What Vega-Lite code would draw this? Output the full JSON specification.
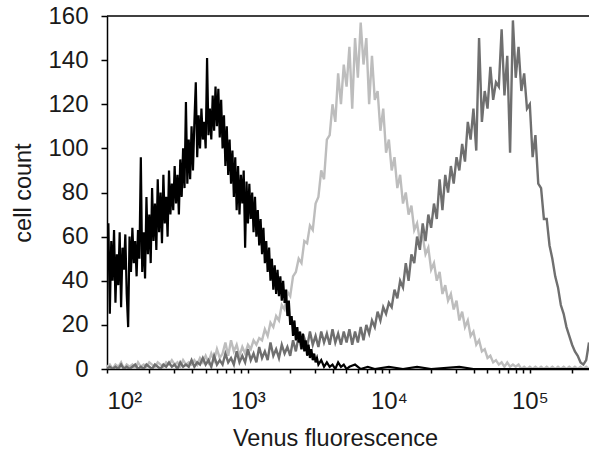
{
  "$schema": "https://vega.github.io/schema/vega-lite/v6.json",
  "width": 482,
  "height": 353,
  "autosize": {"type": "none"},
  "padding": {"left": 107, "top": 16, "right": 0, "bottom": 84},
  "config": {
    "view": {"stroke": null},
    "axis": {"grid": false, "domainColor": "#000", "domainWidth": 1.5, "tickColor": "#000", "tickWidth": 1.5, "labelFont": "Liberation Sans", "labelFontSize": 24, "labelColor": "#1a1a1a", "titleFont": "Liberation Sans", "titleFontSize": 23.5, "titleFontWeight": "normal", "titleColor": "#1a1a1a"}
  },
  "datasets": {
    "black": [
      {"x":100,"y":48},{"x":102.3,"y":66},{"x":104.7,"y":25},{"x":107.2,"y":58},{"x":109.6,"y":40},{"x":112.2,"y":63},{"x":114.8,"y":30},{"x":117.5,"y":52},
      {"x":120.2,"y":38},{"x":123.0,"y":62},{"x":125.9,"y":28},{"x":128.8,"y":55},{"x":131.8,"y":45},{"x":134.9,"y":61},{"x":138.0,"y":34},{"x":141.3,"y":19},
      {"x":144.5,"y":60},{"x":147.9,"y":44},{"x":151.4,"y":64},{"x":154.9,"y":48},{"x":158.5,"y":58},{"x":162.2,"y":42},{"x":166.0,"y":63},{"x":169.8,"y":50},
      {"x":173.8,"y":96},{"x":177.8,"y":44},{"x":182.0,"y":62},{"x":186.2,"y":41},{"x":190.5,"y":78},{"x":195.0,"y":52},{"x":199.5,"y":70},{"x":204.2,"y":48},
      {"x":208.9,"y":82},{"x":213.8,"y":58},{"x":218.8,"y":75},{"x":223.9,"y":54},{"x":229.1,"y":86},{"x":234.4,"y":62},{"x":239.9,"y":80},{"x":245.5,"y":57},
      {"x":251.2,"y":88},{"x":257.0,"y":66},{"x":263.0,"y":78},{"x":269.2,"y":60},{"x":275.4,"y":90},{"x":281.8,"y":70},{"x":288.4,"y":84},{"x":295.1,"y":72},
      {"x":302.0,"y":92},{"x":309.0,"y":75},{"x":316.2,"y":88},{"x":323.6,"y":70},{"x":331.1,"y":95},{"x":338.8,"y":78},{"x":346.7,"y":100},{"x":354.8,"y":82},
      {"x":363.1,"y":121},{"x":371.5,"y":84},{"x":380.2,"y":104},{"x":389.0,"y":86},{"x":398.1,"y":110},{"x":407.4,"y":90},{"x":416.9,"y":112},{"x":426.6,"y":130},
      {"x":436.5,"y":96},{"x":446.7,"y":115},{"x":457.1,"y":100},{"x":467.7,"y":118},{"x":478.6,"y":104},{"x":489.8,"y":112},{"x":501.2,"y":100},{"x":512.9,"y":141},
      {"x":524.8,"y":106},{"x":537.0,"y":118},{"x":549.5,"y":104},{"x":562.3,"y":124},{"x":575.4,"y":108},{"x":588.8,"y":128},{"x":602.6,"y":110},{"x":616.6,"y":127},
      {"x":631.0,"y":105},{"x":645.7,"y":122},{"x":660.7,"y":100},{"x":676.1,"y":115},{"x":691.8,"y":92},{"x":707.9,"y":110},{"x":724.4,"y":88},{"x":741.3,"y":104},
      {"x":758.6,"y":84},{"x":776.2,"y":99},{"x":794.3,"y":78},{"x":812.8,"y":96},{"x":831.8,"y":72},{"x":851.1,"y":92},{"x":871.0,"y":70},{"x":891.3,"y":88},
      {"x":912.0,"y":75},{"x":933.3,"y":90},{"x":955.0,"y":55},{"x":977.2,"y":85},{"x":1000,"y":66},{"x":1023,"y":84},{"x":1047,"y":68},{"x":1072,"y":80},
      {"x":1096,"y":62},{"x":1122,"y":78},{"x":1148,"y":60},{"x":1175,"y":72},{"x":1202,"y":56},{"x":1230,"y":68},{"x":1259,"y":52},{"x":1288,"y":64},
      {"x":1318,"y":48},{"x":1349,"y":58},{"x":1380,"y":44},{"x":1413,"y":55},{"x":1445,"y":40},{"x":1479,"y":50},{"x":1514,"y":36},{"x":1549,"y":47},
      {"x":1585,"y":34},{"x":1622,"y":45},{"x":1660,"y":33},{"x":1698,"y":42},{"x":1738,"y":31},{"x":1778,"y":40},{"x":1820,"y":30},{"x":1862,"y":36},
      {"x":1905,"y":24},{"x":1950,"y":31},{"x":1995,"y":20},{"x":2042,"y":24},{"x":2089,"y":15},{"x":2138,"y":22},{"x":2188,"y":13},{"x":2239,"y":19},
      {"x":2291,"y":12},{"x":2344,"y":17},{"x":2399,"y":9},{"x":2455,"y":16},{"x":2512,"y":8},{"x":2570,"y":13},{"x":2630,"y":6},{"x":2692,"y":11},
      {"x":2754,"y":5},{"x":2818,"y":9},{"x":2884,"y":4},{"x":2951,"y":7},{"x":3020,"y":3},{"x":3090,"y":5},{"x":3162,"y":2},{"x":3311,"y":4},
      {"x":3467,"y":1},{"x":3631,"y":3},{"x":3802,"y":1},{"x":3981,"y":2},{"x":4169,"y":0},{"x":4365,"y":3},{"x":4571,"y":1},{"x":4786,"y":2},
      {"x":5012,"y":0},{"x":5248,"y":1},{"x":5754,"y":2},{"x":6310,"y":0},{"x":7079,"y":1},{"x":7943,"y":0},{"x":10000,"y":1},{"x":12590,"y":0},
      {"x":15850,"y":1},{"x":19950,"y":0},{"x":31620,"y":1},{"x":39810,"y":0},{"x":263000,"y":0}
    ],
    "grey": [
      {"x":100,"l":1,"d":0},{"x":104.7,"l":2,"d":1},{"x":109.6,"l":0,"d":0},{"x":114.8,"l":2,"d":1},
      {"x":120.2,"l":1,"d":0},{"x":125.9,"l":3,"d":2},{"x":131.8,"l":0,"d":0},{"x":138.0,"l":2,"d":1},
      {"x":144.5,"l":1,"d":0},{"x":151.4,"l":2,"d":1},{"x":158.5,"l":0,"d":2},{"x":166.0,"l":3,"d":0},
      {"x":173.8,"l":1,"d":1},{"x":182.0,"l":2,"d":0},{"x":190.5,"l":1,"d":2},{"x":199.5,"l":3,"d":1},
      {"x":208.9,"l":2,"d":0},{"x":218.8,"l":1,"d":2},{"x":229.1,"l":3,"d":1},{"x":239.9,"l":2,"d":0},
      {"x":251.2,"l":1,"d":2},{"x":263.0,"l":3,"d":1},{"x":275.4,"l":2,"d":3},{"x":288.4,"l":4,"d":1},
      {"x":302.0,"l":2,"d":2},{"x":316.2,"l":3,"d":0},{"x":331.1,"l":1,"d":3},{"x":346.7,"l":4,"d":1},
      {"x":363.1,"l":2,"d":2},{"x":380.2,"l":3,"d":1},{"x":398.1,"l":2,"d":4},{"x":416.9,"l":4,"d":1},
      {"x":436.5,"l":2,"d":3},{"x":457.1,"l":5,"d":2},{"x":478.6,"l":3,"d":5},{"x":501.2,"l":6,"d":2},
      {"x":524.8,"l":3,"d":4},{"x":549.5,"l":7,"d":1},{"x":575.4,"l":4,"d":6},{"x":602.6,"l":9,"d":2},
      {"x":631.0,"l":5,"d":4},{"x":660.7,"l":7,"d":2},{"x":691.8,"l":12,"d":7},{"x":724.4,"l":6,"d":3},
      {"x":758.6,"l":13,"d":5},{"x":794.3,"l":8,"d":2},{"x":831.8,"l":11,"d":8},{"x":871.0,"l":6,"d":3},
      {"x":912.0,"l":10,"d":6},{"x":955.0,"l":7,"d":3},{"x":1000,"l":11,"d":9},{"x":1047,"l":9,"d":4},
      {"x":1096,"l":13,"d":7},{"x":1148,"l":11,"d":3},{"x":1202,"l":14,"d":10},{"x":1259,"l":13,"d":5},
      {"x":1318,"l":18,"d":8},{"x":1380,"l":15,"d":4},{"x":1445,"l":21,"d":12},{"x":1514,"l":19,"d":6},
      {"x":1585,"l":24,"d":9},{"x":1660,"l":22,"d":5},{"x":1738,"l":29,"d":11},{"x":1820,"l":27,"d":7},
      {"x":1905,"l":35,"d":10},{"x":1995,"l":33,"d":6},{"x":2089,"l":42,"d":13},{"x":2188,"l":44,"d":8},
      {"x":2291,"l":50,"d":15},{"x":2399,"l":48,"d":9},{"x":2512,"l":58,"d":14},{"x":2630,"l":57,"d":10},
      {"x":2754,"l":65,"d":17},{"x":2884,"l":63,"d":11},{"x":3020,"l":75,"d":15},{"x":3162,"l":78,"d":10},
      {"x":3311,"l":90,"d":17},{"x":3467,"l":86,"d":12},{"x":3631,"l":104,"d":16},{"x":3802,"l":106,"d":11},
      {"x":3981,"l":120,"d":18},{"x":4169,"l":112,"d":12},{"x":4365,"l":134,"d":16},{"x":4571,"l":120,"d":11},
      {"x":4786,"l":138,"d":17},{"x":5012,"l":128,"d":12},{"x":5248,"l":146,"d":18},{"x":5495,"l":118,"d":11},
      {"x":5754,"l":150,"d":17},{"x":6026,"l":132,"d":12},{"x":6310,"l":157,"d":19},{"x":6607,"l":138,"d":13},
      {"x":6918,"l":150,"d":20},{"x":7244,"l":120,"d":16},{"x":7586,"l":142,"d":22},{"x":7943,"l":122,"d":19},
      {"x":8318,"l":126,"d":26},{"x":8710,"l":108,"d":22},{"x":9120,"l":118,"d":28},{"x":9550,"l":98,"d":25},
      {"x":10000,"l":104,"d":30},{"x":10470,"l":90,"d":28},{"x":10960,"l":96,"d":36},{"x":11480,"l":82,"d":32},
      {"x":12020,"l":88,"d":40},{"x":12590,"l":75,"d":37},{"x":13180,"l":80,"d":48},{"x":13800,"l":70,"d":40},
      {"x":14450,"l":74,"d":52},{"x":15140,"l":63,"d":48},{"x":15850,"l":66,"d":60},{"x":16600,"l":58,"d":54},
      {"x":17380,"l":60,"d":66},{"x":18200,"l":52,"d":58},{"x":19050,"l":55,"d":70},{"x":19950,"l":45,"d":64},
      {"x":20890,"l":48,"d":75},{"x":21880,"l":40,"d":68},{"x":22910,"l":44,"d":86},{"x":23990,"l":34,"d":72},
      {"x":25120,"l":38,"d":88},{"x":26300,"l":31,"d":80},{"x":27540,"l":34,"d":92},{"x":28840,"l":27,"d":84},
      {"x":30200,"l":31,"d":96},{"x":31620,"l":22,"d":90},{"x":33110,"l":26,"d":102},{"x":34670,"l":19,"d":94},
      {"x":36310,"l":22,"d":112},{"x":38020,"l":15,"d":104},{"x":39810,"l":17,"d":118},{"x":41690,"l":11,"d":99},
      {"x":43650,"l":13,"d":150},{"x":45710,"l":8,"d":112},{"x":47860,"l":9,"d":126},{"x":50120,"l":5,"d":118},
      {"x":52480,"l":6,"d":137},{"x":54950,"l":3,"d":122},{"x":57540,"l":4,"d":130},{"x":60260,"l":2,"d":128},
      {"x":63100,"l":3,"d":154},{"x":66070,"l":1,"d":124},{"x":69180,"l":3,"d":142},{"x":72440,"l":1,"d":98},
      {"x":75860,"l":2,"d":158},{"x":79430,"l":1,"d":132},{"x":83180,"l":2,"d":146},{"x":87100,"l":0,"d":126},
      {"x":91200,"l":1,"d":134},{"x":95500,"l":0,"d":118},{"x":100000,"l":1,"d":120},{"x":104700,"l":0,"d":96},
      {"x":109600,"l":1,"d":106},{"x":114800,"l":0,"d":84},{"x":120200,"l":1,"d":82},{"x":125900,"l":0,"d":68},
      {"x":131800,"l":1,"d":68},{"x":138000,"l":0,"d":56},{"x":144500,"l":1,"d":50},{"x":151400,"l":0,"d":42},
      {"x":158500,"l":1,"d":37},{"x":166000,"l":0,"d":29},{"x":173800,"l":1,"d":25},{"x":182000,"l":0,"d":19},
      {"x":190500,"l":1,"d":15},{"x":199500,"l":0,"d":11},{"x":208900,"l":1,"d":8},{"x":218800,"l":0,"d":6},
      {"x":229100,"l":1,"d":3},{"x":239900,"l":0,"d":2},{"x":251200,"l":1,"d":4},{"x":263000,"l":0,"d":12}
    ]
  },
  "layer": [
    {
      "encoding": {
        "x": {"field": "x", "type": "quantitative",
          "scale": {"type": "log", "domain": [100, 263000]},
          "axis": {"title": "Venus fluorescence", "tickSize": 4, "labelPadding": 16, "labelOverlap": false, "titleX": 228, "titleAlign": "center", "titlePadding": 13,
            "values": [100,200,300,400,500,600,700,800,900,1000,2000,3000,4000,5000,6000,7000,8000,9000,10000,20000,30000,40000,50000,60000,70000,80000,90000,100000,200000],
            "labelExpr": "datum.value == 100 ? '10²' : datum.value == 1000 ? '10³' : datum.value == 10000 ? '10⁴' : datum.value == 100000 ? '10⁵' : ''"}}
      },
      "layer": [
        {"data": {"name": "grey"},
         "mark": {"type": "line", "stroke": "#bdbdbd", "strokeWidth": 2.4, "clip": true},
         "encoding": {"y": {"field": "l", "type": "quantitative", "scale": {"domain": [0, 160]}, "axis": {"title": "cell count", "values": [0,20,40,60,80,100,120,140,160], "tickSize": 6, "labelPadding": 13, "titlePadding": 12}}}},
        {"data": {"name": "grey"},
         "mark": {"type": "line", "stroke": "#6f6f6f", "strokeWidth": 2.4, "clip": true},
         "encoding": {"y": {"field": "d", "type": "quantitative", "scale": {"domain": [0, 160]}, "axis": {"title": "cell count", "values": [0,20,40,60,80,100,120,140,160], "tickSize": 6, "labelPadding": 13, "titlePadding": 12}}}},
        {"data": {"name": "black"},
         "mark": {"type": "line", "stroke": "#000000", "strokeWidth": 2.2, "clip": true},
         "encoding": {"y": {"field": "y", "type": "quantitative", "scale": {"domain": [0, 160]}, "axis": {"title": "cell count", "values": [0,20,40,60,80,100,120,140,160], "tickSize": 6, "labelPadding": 13, "titlePadding": 12}}}}
      ]
    },
    {"data": {"values": [{}]},
     "mark": {"type": "rule", "stroke": "#000", "strokeWidth": 1.5},
     "encoding": {"y": {"datum": 160, "type": "quantitative"}}}
  ]
}
